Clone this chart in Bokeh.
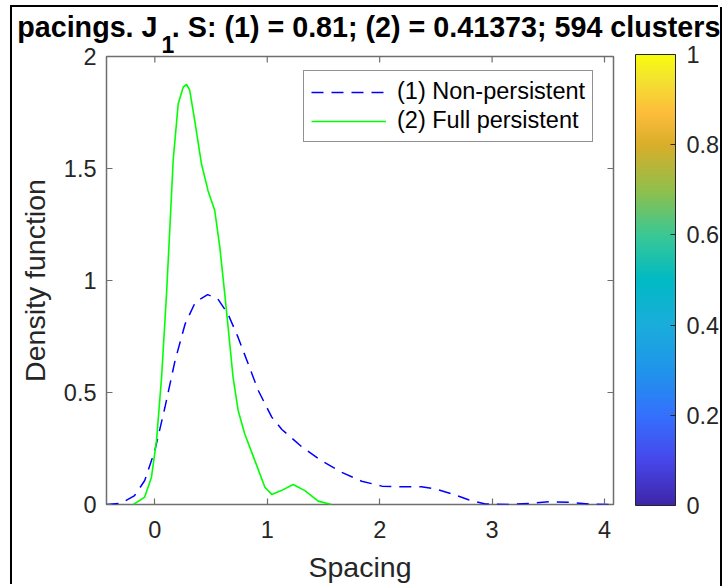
import numpy as np
from bokeh.plotting import figure
from bokeh.models import (FixedTicker, Label, Legend, LegendItem,
                          ColorBar, LinearColorMapper, Range1d)
from bokeh.embed import file_html
from bokeh.resources import INLINE

# ---------------- data ----------------
spacing_non = [-0.43, -0.30, -0.18, -0.09, 0.00, 0.09, 0.18, 0.27, 0.36, 0.47,
               0.56, 0.65, 0.74, 0.83, 0.92, 1.04, 1.13, 1.31, 1.48, 1.66,
               1.84, 2.02, 2.19, 2.37, 2.49, 2.64, 2.79, 2.94, 3.15, 3.33,
               3.51, 3.69, 3.87, 4.08]
density_non = [0.000, 0.005, 0.040, 0.107, 0.241, 0.434, 0.643, 0.807, 0.903, 0.937,
               0.918, 0.851, 0.747, 0.628, 0.509, 0.390, 0.335, 0.256, 0.196, 0.144,
               0.104, 0.082, 0.079, 0.079, 0.070, 0.048, 0.021, 0.002, 0.000, 0.005,
               0.012, 0.010, 0.002, 0.000]

spacing_full = [-0.19, -0.09, -0.03, 0.015, 0.06, 0.104, 0.134, 0.163, 0.208, 0.252,
                0.282, 0.31, 0.355, 0.415, 0.474, 0.533, 0.578, 0.622, 0.652, 0.696,
                0.741, 0.80, 0.89, 0.979, 1.04, 1.125, 1.23, 1.335, 1.453, 1.57]
density_full = [0.000, 0.033, 0.122, 0.286, 0.568, 0.940, 1.238, 1.536, 1.789, 1.863,
                1.875, 1.850, 1.714, 1.520, 1.400, 1.312, 1.149, 0.940, 0.790, 0.568,
                0.420, 0.315, 0.196, 0.077, 0.045, 0.062, 0.089, 0.062, 0.015, 0.000]

series_labels = ["(1) Non-persistent", "(2) Full persistent"]

x_ticks = [0, 1, 2, 3, 4]
x_tick_labels = ["0", "1", "2", "3", "4"]
y_ticks = [0, 0.5, 1, 1.5, 2]
y_tick_labels = ["0", "0.5", "1", "1.5", "2"]
cbar_ticks = [0, 0.2, 0.4, 0.6, 0.8, 1]
cbar_tick_labels = ["0", "0.2", "0.4", "0.6", "0.8", "1"]
x_limits = (-0.43, 4.08)
y_limits = (0, 2)
cbar_limits = (0, 1)

title_main = "pacings. J"
title_sub = "1"
title_rest = ". S: (1) = 0.81; (2) = 0.41373; 594 clusters"
x_label = "Spacing"
y_label = "Density function"

# ---------------- style ----------------
FONT = "Liberation Sans"
TXT = "#262626"
FRAME = "#6e6e6e"

# parula-like colormap anchors (style only)
anchors = [(0.00, (62, 38, 168)), (0.10, (71, 71, 235)), (0.20, (52, 113, 253)),
           (0.30, (31, 149, 234)), (0.40, (26, 173, 219)), (0.50, (0, 186, 196)),
           (0.60, (58, 200, 148)), (0.70, (145, 191, 75)), (0.80, (216, 174, 42)),
           (0.87, (253, 188, 60)), (0.95, (243, 228, 46)), (1.00, (249, 251, 14))]
pos = np.array([a[0] for a in anchors])
rgb = np.array([a[1] for a in anchors], dtype=float)
tt = np.linspace(0, 1, 256)
palette = ["#%02x%02x%02x" % tuple(int(round(np.interp(t, pos, rgb[:, k]))) for k in range(3))
           for t in tt]

p = figure(width=708, height=579, output_backend="svg", toolbar_location=None,
           x_range=Range1d(*x_limits), y_range=Range1d(*y_limits),
           min_border_left=94, min_border_right=107, min_border_top=49,
           min_border_bottom=82, title=None)
p.styles = {"margin-left": "12px", "margin-top": "7px",
            "box-shadow": "-2px -2px 0 0 #000000, 2px 0 0 0 #000000"}
p.background_fill_color = "white"
p.border_fill_color = "white"
p.grid.visible = False
p.outline_line_color = FRAME
p.outline_line_width = 1.5

xa = p.xaxis[0]
ya = p.yaxis[0]
for ax, ticks, labels in ((xa, x_ticks, x_tick_labels), (ya, y_ticks, y_tick_labels)):
    ax.ticker = FixedTicker(ticks=ticks)
    ax.major_label_overrides = {t: l for t, l in zip(ticks, labels)}
    ax.major_tick_in = 6
    ax.major_tick_out = 0
    ax.minor_tick_in = 0
    ax.minor_tick_out = 0
    ax.major_tick_line_color = FRAME
    ax.major_tick_line_width = 1.2
    ax.axis_line_color = None
    ax.major_label_text_font = FONT
    ax.major_label_text_color = TXT
    ax.major_label_text_font_size = "23.5px"
    ax.axis_label_text_font = FONT
    ax.axis_label_text_font_size = "28.5px"
    ax.axis_label_text_font_style = "normal"
    ax.axis_label_text_color = TXT
xa.axis_label = x_label
ya.axis_label = y_label
xa.major_label_standoff = 16
xa.axis_label_standoff = 10
ya.major_label_standoff = 10
ya.axis_label_standoff = 10

# inward ticks on the top and right edges of the box (half of each dash is clipped)
p.scatter(x=x_ticks, y=[y_limits[1]] * len(x_ticks), marker="dash", angle=np.pi / 2,
          size=12, line_color=FRAME, line_width=1.2)
p.scatter(x=[x_limits[1]] * len(y_ticks), y=y_ticks, marker="dash",
          size=12, line_color=FRAME, line_width=1.2)

r1 = p.line(spacing_non, density_non, line_color="#0000ff", line_width=1.5,
            line_dash="12 8")
r2 = p.line(spacing_full, density_full, line_color="#00ff00", line_width=1.6)

legend = Legend(items=[LegendItem(label=series_labels[0], renderers=[r1]),
                       LegendItem(label=series_labels[1], renderers=[r2])],
                location=(197, 362))
legend.glyph_width = 75
legend.label_standoff = 11
legend.padding = 7
legend.margin = 0
legend.spacing = 2
legend.label_text_font = FONT
legend.label_text_font_size = "23.5px"
legend.label_text_color = "#000000"
legend.border_line_color = TXT
legend.border_line_width = 1
legend.background_fill_alpha = 1
p.add_layout(legend)

mapper = LinearColorMapper(palette=palette, low=cbar_limits[0], high=cbar_limits[1])
cb = ColorBar(color_mapper=mapper, ticker=FixedTicker(ticks=cbar_ticks),
              major_label_overrides={t: l for t, l in zip(cbar_ticks, cbar_tick_labels)},
              width=40, height=451, location=(529, -1), padding=0, margin=0,
              label_standoff=11, major_tick_in=5, major_tick_out=0,
              major_tick_line_color=TXT, bar_line_color=TXT, bar_line_width=1,
              major_label_text_font=FONT, major_label_text_font_size="23.5px",
              major_label_text_color=TXT, background_fill_alpha=0,
              border_line_color=None)
p.add_layout(cb)

# title: main line (with a gap where the subscript sits) above the plot,
# the subscript in the (empty) right side panel; both placed in canvas pixels
title_line = title_main + "\u2002" + title_rest
p.add_layout(Label(x=4.7, y=19, x_units="canvas", y_units="canvas", text=title_line,
                   text_font=FONT, text_font_size="28.7px", text_font_style="bold",
                   text_color="#000000", text_baseline="alphabetic"), "above")
p.add_layout(Label(x=149, y=37, x_units="canvas", y_units="canvas", text=title_sub,
                   text_font=FONT, text_font_size="23px", text_font_style="bold",
                   text_color="#000000", text_baseline="alphabetic"), "right")

open("out.html", "w").write(file_html(p, INLINE))
